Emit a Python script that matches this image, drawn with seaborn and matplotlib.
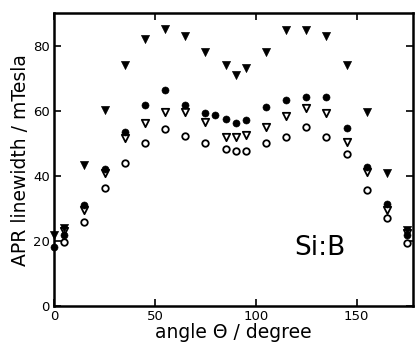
import matplotlib
matplotlib.use('Agg')
import matplotlib.pyplot as plt
import seaborn as sns
import pandas as pd

sns.set_style('ticks', {'axes.edgecolor': 'black', 'xtick.color': 'black',
                        'ytick.color': 'black', 'text.color': 'black',
                        'axes.labelcolor': 'black'})
plt.rcParams['font.family'] = ['DejaVu Sans']

# filled triangles
ang_a = [0, 5, 15, 25, 35, 45, 55, 65, 75, 85, 90, 95, 105, 115, 125, 135, 145, 155, 165, 175]
wid_a = [21.8, 24.0, 43.3, 60.1, 74.2, 81.9, 85.0, 83.1, 77.9, 74.2, 70.9, 73.0, 77.9, 84.7, 84.7, 83.1, 74.2, 59.5, 40.8, 23.5]
# filled circles
ang_b = [0, 5, 15, 25, 35, 45, 55, 65, 75, 80, 85, 90, 95, 105, 115, 125, 135, 145, 155, 165, 175]
wid_b = [18.2, 21.8, 31.0, 42.0, 53.4, 61.7, 66.3, 61.7, 59.2, 58.6, 57.6, 56.1, 57.1, 61.1, 63.2, 64.2, 64.2, 54.6, 42.7, 31.3, 22.0]
# open triangles
ang_c = [5, 15, 25, 35, 45, 55, 65, 75, 85, 90, 95, 105, 115, 125, 135, 145, 155, 165, 175]
wid_c = [23.0, 29.5, 41.0, 51.5, 56.1, 59.6, 59.6, 56.6, 51.9, 51.8, 52.5, 55.0, 58.4, 61.0, 59.3, 50.3, 41.2, 29.4, 22.5]
# open circles
ang_d = [5, 15, 25, 35, 45, 55, 65, 75, 85, 90, 95, 105, 115, 125, 135, 145, 155, 165, 175]
wid_d = [19.7, 25.9, 36.2, 44.0, 50.0, 54.3, 52.1, 50.0, 48.4, 47.6, 47.6, 50.0, 51.9, 55.0, 51.8, 46.7, 35.6, 27.0, 19.5]

fig = plt.figure(figsize=(4.16, 3.44), dpi=100)
ax = fig.add_axes([0.13, 0.11, 0.863, 0.852])

sns.scatterplot(x=ang_d, y=wid_d, marker='o', s=22, facecolor='white', edgecolor='black', linewidth=1.3, ax=ax, clip_on=False, zorder=3)
sns.scatterplot(x=ang_c, y=wid_c, marker='v', s=28, facecolor='white', edgecolor='black', linewidth=1.3, ax=ax, clip_on=False, zorder=3)
sns.scatterplot(x=ang_b, y=wid_b, marker='o', s=26, color='black', edgecolor='black', ax=ax, clip_on=False, zorder=3)
sns.scatterplot(x=ang_a, y=wid_a, marker='v', s=34, color='black', edgecolor='black', ax=ax, clip_on=False, zorder=3)

ax.set_xlim(0, 178)
ax.set_ylim(0, 90)
ax.set_xticks([0, 50, 100, 150])
ax.set_yticks([0, 20, 40, 60, 80])
ax.tick_params(direction='in', length=5, width=1.2, top=True, right=True, labelsize=9.5, pad=3)
for sp in ax.spines.values():
    sp.set_linewidth(1.8)

ax.set_xlabel('angle Θ / degree', fontsize=13.5, labelpad=0)
ax.set_ylabel('APR linewidth / mTesla', fontsize=13.5, labelpad=2)
ax.text(132, 18, 'Si:B', fontsize=19, ha='center', va='center')

fig.savefig('out.png', dpi=100)
